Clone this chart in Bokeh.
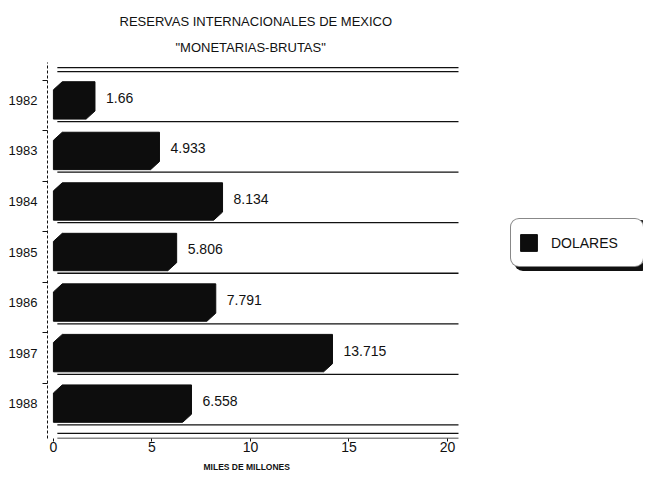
from bokeh.plotting import figure
from bokeh.models import (ColumnDataSource, FixedTicker, Legend, LegendItem, Title)
from bokeh.embed import file_html
from bokeh.resources import INLINE

# ---- data ----
years = ["1982", "1983", "1984", "1985", "1986", "1987", "1988"]
dolares = [1.66, 4.933, 8.134, 5.806, 7.791, 13.715, 6.558]
value_labels = ["1.66", "4.933", "8.134", "5.806", "7.791", "13.715", "6.558"]
x_ticks = [0, 5, 10, 15, 20]
title_line1 = "RESERVAS INTERNACIONALES DE MEXICO"
title_line2 = "\"MONETARIAS-BRUTAS\""
x_label = "MILES DE MILLONES"
legend_label = "DOLARES"

FONT = "Liberation Sans"
n = len(years)
pos = [n - 1 - i for i in range(n)]  # 1982 at top

# 3D-looking bar silhouettes built from the values
dx, dy = 0.45, 0.16
half_top, half_bot = 0.37, 0.37
xs, ys = [], []
for k, v in zip(pos, dolares):
    yt, yb = k + half_top, k - half_bot
    xs.append([0, v, v + dx, v + dx, dx, 0])
    ys.append([yb, yb, yb + dy, yt, yt, yt - dy])

p = figure(width=645, height=478, output_backend="svg", toolbar_location=None,
           x_range=(-0.3, 29.95), y_range=(-0.69, 6.75),
           min_border_left=47, min_border_right=2,
           min_border_top=62, min_border_bottom=40)
p.background_fill_color = "white"
p.border_fill_color = "white"
p.outline_line_color = None
p.xgrid.visible = False
p.ygrid.visible = False

# titles (added bottom line first), positioned over the chart area
p.add_layout(Title(text=title_line2, align="left", offset=128, text_font=FONT,
                   text_font_size="13px", text_font_style="normal",
                   text_color="#111111", standoff=15), "above")
p.add_layout(Title(text=title_line1, align="left", offset=72, text_font=FONT,
                   text_font_size="13px", text_font_style="normal",
                   text_color="#111111", standoff=3), "above")

# lane lines
lane_y = [k - 0.42 for k in pos] + [6.65, 6.57, -0.59, -0.69]
p.segment(x0=[0.2] * len(lane_y), x1=[20.56] * len(lane_y), y0=lane_y, y1=lane_y,
          line_color="#111111", line_width=1.3)

src = ColumnDataSource(dict(xs=xs, ys=ys))
bars = p.patches("xs", "ys", source=src, fill_color="#0d0d0d",
                 line_color="#0d0d0d", line_width=1)

lab = ColumnDataSource(dict(x=[v + dx for v in dolares], y=[k + 0.05 for k in pos],
                            t=value_labels))
p.text("x", "y", text="t", source=lab, x_offset=11, text_baseline="middle",
       text_align="left", text_font_size="14px", text_color="#111111",
       text_font={"value": FONT})

# x axis
p.xaxis.ticker = FixedTicker(ticks=x_ticks)
p.xaxis.bounds = (0, 20)
p.xaxis.major_label_text_font = FONT
p.xaxis.major_label_text_font_size = "14px"
p.xaxis.major_label_text_color = "#111111"
p.xaxis.major_label_standoff = 0
p.xaxis.major_tick_in = 0
p.xaxis.major_tick_out = 3
p.xaxis.minor_tick_line_color = None
p.xaxis.axis_line_color = None
p.xaxis.major_tick_line_color = "#111111"

# x axis title, placed under the chart area
p.add_layout(Title(text=x_label, align="left", offset=156, text_font=FONT,
                   text_font_size="8.5px", text_font_style="bold",
                   text_color="#111111", standoff=10), "below")

# y axis
p.yaxis.ticker = FixedTicker(ticks=pos, minor_ticks=[k + 0.4 for k in pos])
p.yaxis.major_label_overrides = {k: y for k, y in zip(pos, years)}
p.yaxis.major_label_text_font = FONT
p.yaxis.major_label_text_font_size = "13px"
p.yaxis.major_label_text_color = "#111111"
p.yaxis.major_label_standoff = 4
p.yaxis.major_tick_line_color = None
p.yaxis.minor_tick_in = 0
p.yaxis.minor_tick_out = 5
p.yaxis.minor_tick_line_color = "#111111"
p.yaxis.axis_line_dash = "3 2"
p.yaxis.axis_line_color = "#111111"

common = dict(margin=0, padding=7, glyph_width=21, glyph_height=21,
              label_standoff=12, label_width=85, label_height=33,
              label_text_font=FONT, label_text_font_size="14px")

# shadow of the legend box (offset right and down)
shadow = Legend(items=[LegendItem(label=" ", renderers=[bars])],
                location=(467, 167), label_text_color="#111111",
                border_line_color="#111111", border_line_width=2,
                background_fill_color="#111111", background_fill_alpha=1.0,
                **common)
legend = Legend(items=[LegendItem(label=legend_label, renderers=[bars])],
                location=(463, 171), label_text_color="#111111",
                border_line_color="#111111", border_line_width=1.5,
                background_fill_color="white", background_fill_alpha=1.0,
                **common)
for lg in (shadow, legend):
    try:
        lg.border_radius = 9
    except Exception:
        pass
p.add_layout(shadow)
p.add_layout(legend)

open("out.html", "w").write(file_html(p, INLINE))
